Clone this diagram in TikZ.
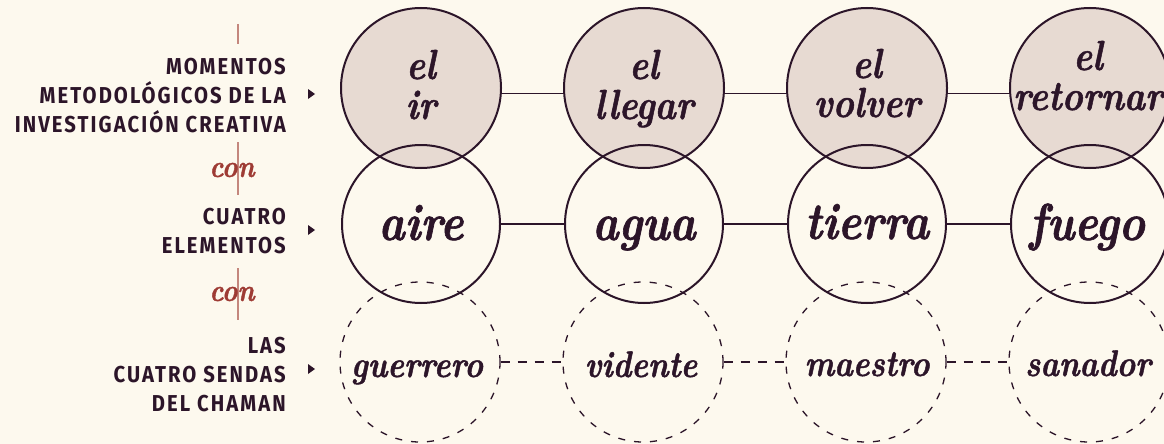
\documentclass[tikz,border=0pt]{standalone}
\usepackage{fontspec}
\setmainfont{Fira Sans}
\newfontfamily\labfont{Fira Sans Bold}[FakeStretch=0.88,LetterSpace=9]
\newfontfamily\hand{lmroman10-bolditalic}[Extension=.otf,FakeStretch=0.85,FakeBold=1.2]
\definecolor{bgc}{HTML}{FDF9EE}
\definecolor{ink}{HTML}{2C1529}
\definecolor{pinkfill}{HTML}{E7DAD2}
\definecolor{redline}{HTML}{C4877D}
\definecolor{conred}{HTML}{9E3B34}
\tikzset{
  top/.style={circle,draw=ink,line width=2pt,fill=pinkfill,minimum size=160pt,inner sep=0pt},
  mid/.style={circle,draw=ink,line width=2pt,minimum size=158pt,inner sep=0pt},
  low/.style={circle,draw=ink,line width=1.3pt,dash pattern=on 7pt off 9pt,minimum size=160pt,inner sep=0pt},
  link/.style={draw=ink,line width=1.7pt},
  dlink/.style={draw=ink,line width=1.3pt,dash pattern=on 9pt off 8pt},
  toptxt/.style={text=ink,font=\hand\fontsize{42}{42}\selectfont,anchor=base,inner sep=0pt},
  midtxt/.style={text=ink,font=\hand\fontsize{52}{52}\selectfont,anchor=base,inner sep=0pt},
  lowtxt/.style={text=ink,font=\hand\fontsize{37}{37}\selectfont,anchor=base,inner sep=0pt},
  lab/.style={text=ink,font=\labfont\fontsize{23}{29}\selectfont,align=right,anchor=east,inner sep=0pt},
  contxt/.style={text=conred,font=\hand\fontsize{31}{31}\selectfont,anchor=center,inner sep=0pt},
  red/.style={draw=redline,line width=1.5pt},
  tri/.style={fill=ink,draw=none},
}
\begin{document}
\begin{tikzpicture}[x=1pt,y=-1pt]
\useasboundingbox[fill=bgc] (0,0) rectangle (1164,444);
% top circles
\node[top] (t1) at (421,88) {};
\node[top] (t2) at (644,88) {};
\node[top] (t3) at (867,88) {};
\node[top] (t4) at (1090,88) {};
\draw[link] (t1.-4) -- (t2.184);
\draw[link] (t2.-4) -- (t3.184);
\draw[link] (t3.-4) -- (t4.184);
% middle circles
\node[mid] (m1) at (421,224) {};
\node[mid] (m2) at (644,224) {};
\node[mid] (m3) at (867,224) {};
\node[mid] (m4) at (1090,224) {};
\draw[link] (m1) -- (m2);
\draw[link] (m2) -- (m3);
\draw[link] (m3) -- (m4);
% lower dashed circles
\node[low] (l1) at (420,362) {};
\node[low] (l2) at (643,362) {};
\node[low] (l3) at (866,362) {};
\node[low] (l4) at (1089,362) {};
\draw[dlink] (l1) -- (l2);
\draw[dlink] (l2) -- (l3);
\draw[dlink] (l3) -- (l4);
% texts top
\node[toptxt] (t1a) at (421,79) {el};
\node[toptxt] (t1b) at (421,119) {ir};
\node[toptxt] (t2a) at (644,79) {el};
\node[toptxt] (t2b) at (644,119) {llegar};
\node[toptxt] (t3a) at (867,78) {el};
\node[toptxt] (t3b) at (867,117) {volver};
\node[toptxt] (t4a) at (1088,70) {el};
\node[toptxt] (t4b) at (1088,110) {retornar};
% texts middle
\node[midtxt] (m1t) at (421,240) {aire};
\node[midtxt] (m2t) at (644,240) {agua};
\node[midtxt] (m3t) at (867,239) {tierra};
\node[midtxt] (m4t) at (1087,240) {fuego};
% texts low
\node[lowtxt] (l1t) at (417,377) {guerrero};
\node[lowtxt] (l2t) at (641,377) {vidente};
\node[lowtxt] (l3t) at (867,376) {maestro};
\node[lowtxt] (l4t) at (1088,376) {sanador};
% left labels
\node[lab] (lab1) at (286,96) {MOMENTOS\\METODOLÓGICOS DE LA\\INVESTIGACIÓN CREATIVA};
\node[lab] (lab2) at (286,231) {CUATRO\\ELEMENTOS};
\node[lab] (lab3) at (286,375) {LAS\\CUATRO SENDAS\\DEL CHAMAN};
% arrows
\coordinate (a1) at (308,94);
\coordinate (a2) at (308,230);
\coordinate (a3) at (308,369);
\fill[tri] (a1) ++(0,-5) -- ++(7,5) -- ++(-7,5) -- cycle;
\fill[tri] (a2) ++(0,-5) -- ++(7,5) -- ++(-7,5) -- cycle;
\fill[tri] (a3) ++(0,-5) -- ++(7,5) -- ++(-7,5) -- cycle;
% red connectors
\coordinate (r0) at (238,24);
\coordinate (r1) at (238,44);
\coordinate (r2) at (238,142);
\coordinate (r3) at (238,195);
\coordinate (r4) at (238,268);
\coordinate (r5) at (238,320);
\draw[red] (r0) -- (r1);
\draw[red] (r2) -- (r3);
\draw[red] (r4) -- (r5);
\node[contxt] (con1) at (232,170) {con};
\node[contxt] (con2) at (232,294) {con};
\end{tikzpicture}
\end{document}
